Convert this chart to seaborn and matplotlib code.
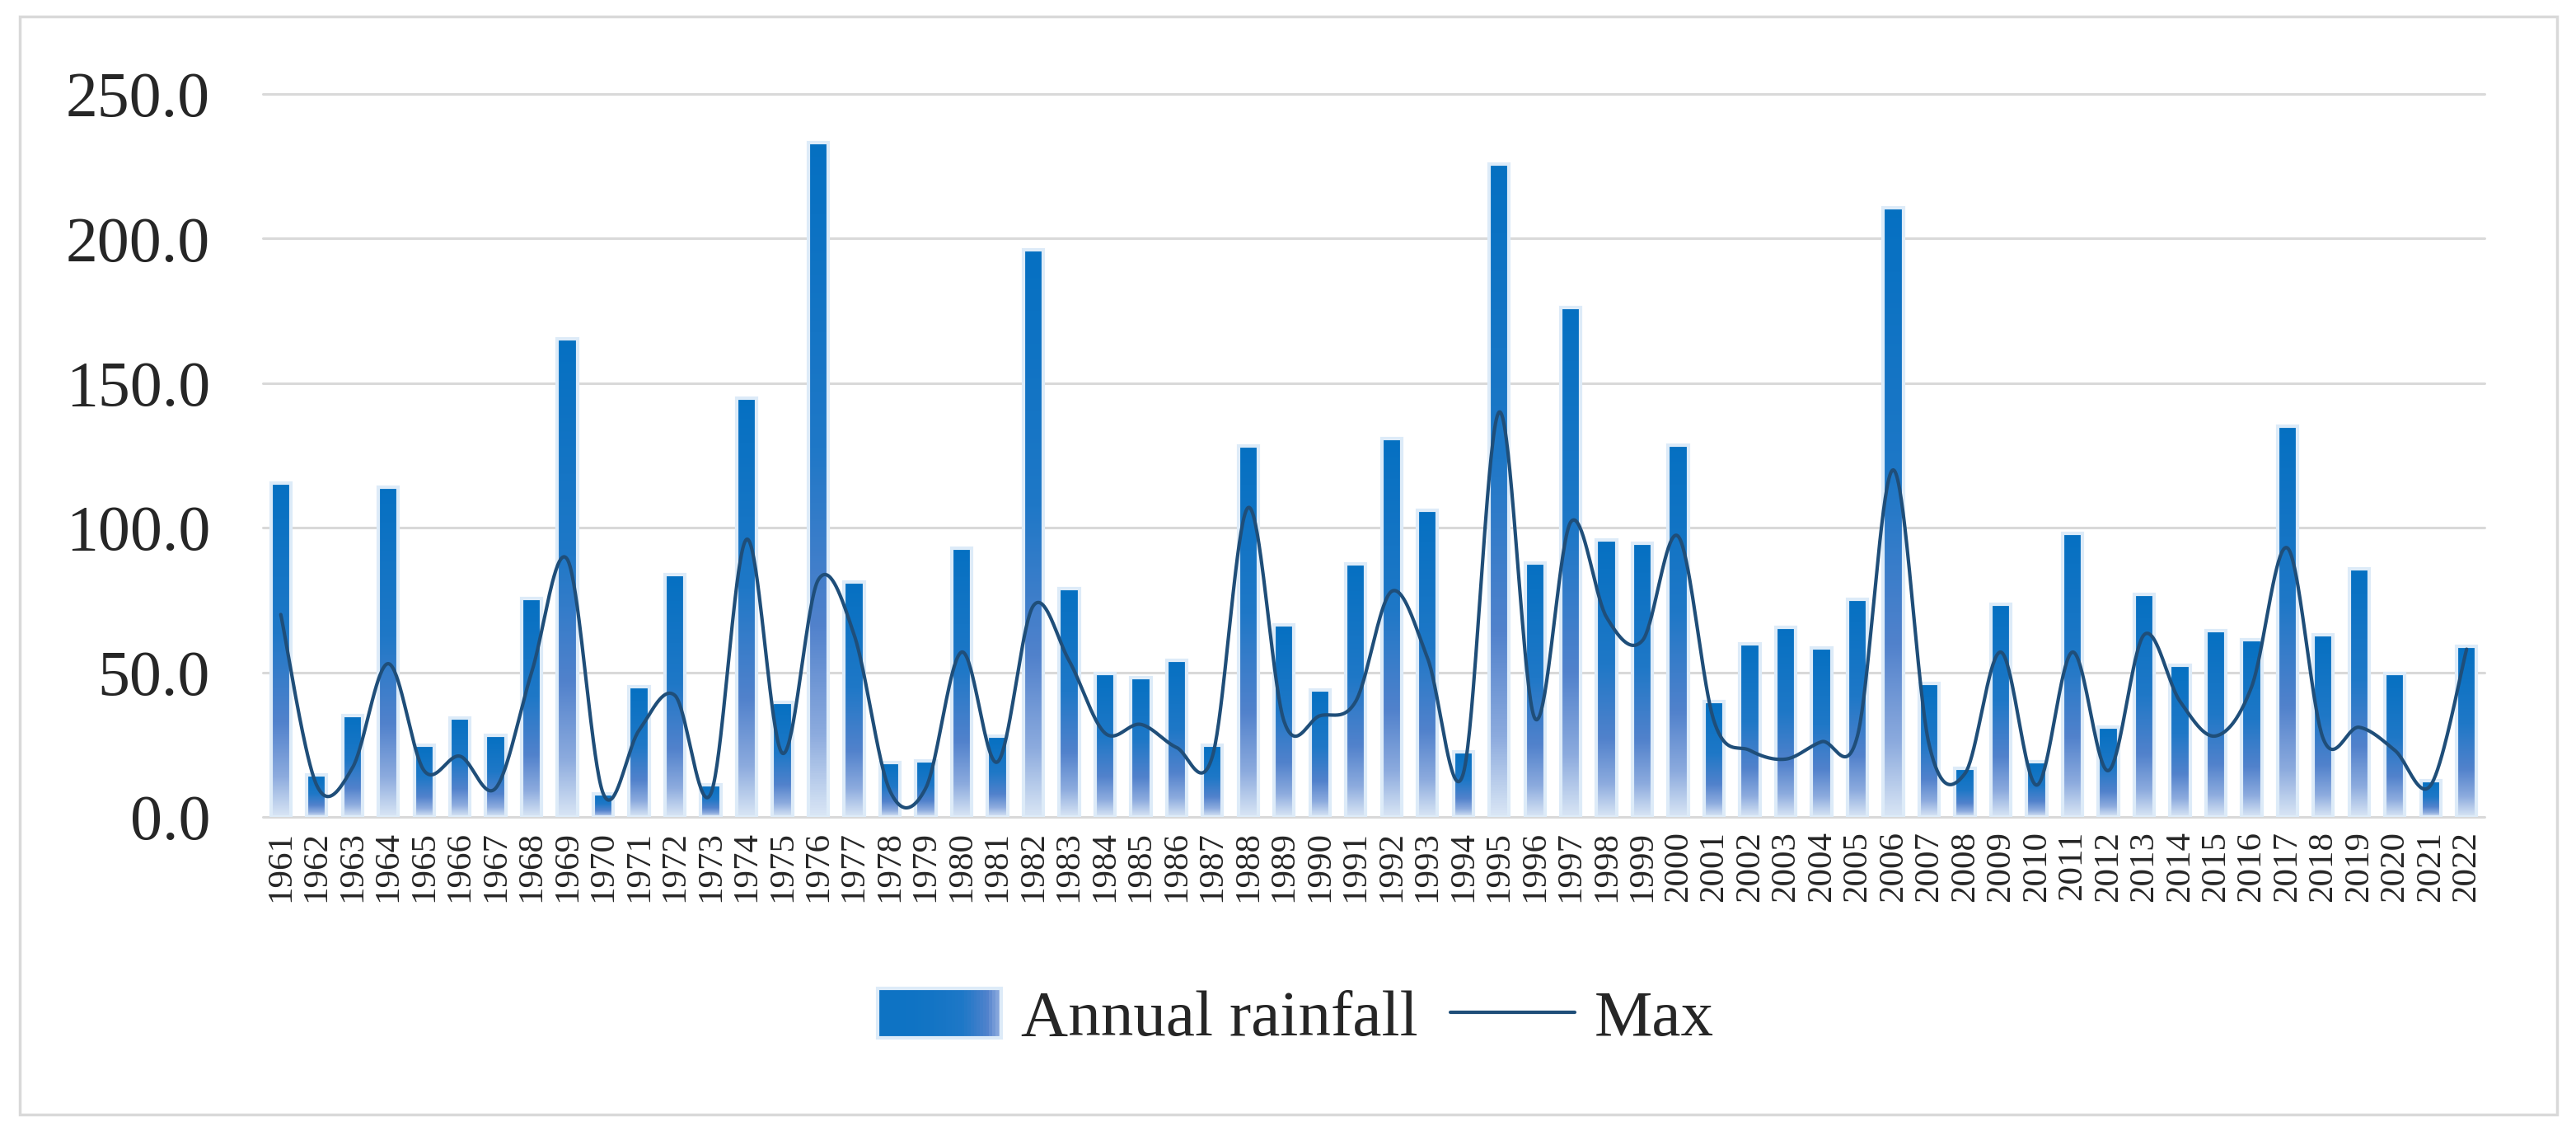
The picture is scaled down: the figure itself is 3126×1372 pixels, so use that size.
import numpy as np
import pandas as pd
import matplotlib
matplotlib.use("Agg")
import matplotlib.pyplot as plt
import seaborn as sns
from matplotlib.colors import LinearSegmentedColormap
from matplotlib.patches import Rectangle
from matplotlib.lines import Line2D
from matplotlib.legend_handler import HandlerBase

years = [str(y) for y in range(1961, 2023)]
annual_rainfall = [115.5, 14.5, 35.2, 114.0, 24.7, 34.3, 28.1, 75.6, 165.3, 8.0,
                   45.0, 83.7, 11.0, 144.8, 39.6, 233.2, 81.3, 18.9, 19.4, 92.9,
                   27.8, 196.1, 79.0, 49.7, 48.3, 54.2, 24.7, 128.3, 66.3, 43.9,
                   87.4, 130.8, 106.1, 22.6, 225.9, 87.9, 176.3, 95.8, 94.6, 128.6,
                   39.9, 59.8, 65.7, 58.4, 75.3, 210.8, 46.3, 16.8, 73.6, 19.2,
                   98.0, 31.0, 76.9, 52.5, 64.3, 61.3, 135.0, 63.0, 85.9, 49.7,
                   12.5, 58.9]
max_values = [70, 11, 17, 53, 16, 21, 10, 50, 89, 8,
              30, 42, 8, 96, 22, 82, 63, 9, 10, 57,
              19, 73, 54, 29, 32, 24, 21, 107, 33, 35,
              40, 78, 55, 15, 140, 34, 102, 69, 61, 97,
              33, 23, 20, 26, 28, 120, 25, 15, 57, 11,
              57, 16, 63, 40, 28, 45, 93, 27, 31, 23,
              11, 58]
y_ticks = [0, 50, 100, 150, 200, 250]

df = pd.DataFrame({"Year": years, "Annual rainfall": annual_rainfall, "Max": max_values})

sns.set_theme(style="white")
plt.rcParams["font.family"] = ["Liberation Serif", "DejaVu Serif"]

W, H = 3126, 1372
fig = plt.figure(figsize=(W / 100, H / 100), dpi=100)
fig.patch.set_facecolor("white")
ax = fig.add_axes([319 / W, 1 - 991 / H, (3015 - 319) / W, (991 - 114) / H])

# outer frame
fig.patches.append(Rectangle((24 / W, 1 - 1352 / H), (3103 - 24) / W, (1352 - 20) / H,
                             transform=fig.transFigure, fill=False,
                             edgecolor="#D9D9D9", linewidth=2.5, zorder=0))

grad_cmap = LinearSegmentedColormap.from_list(
    "bargrad",
    [(0.0, (0.02, 0.44, 0.76)),
     (0.45, (0.12, 0.47, 0.78)),
     (0.72, (0.32, 0.51, 0.80)),
     (0.88, (0.55, 0.67, 0.87)),
     (1.0, (0.85, 0.90, 0.96))])

sns.barplot(data=df, x="Year", y="Annual rainfall", order=years, color="#1F6FC0",
            width=0.56, ax=ax, zorder=3, saturation=1)

grad = np.linspace(0, 1, 256).reshape(-1, 1)
for p in list(ax.patches):
    x0, y0 = p.get_x(), p.get_y()
    w, h = p.get_width(), p.get_height()
    p.set_facecolor("none")
    p.set_edgecolor("#DDEBF8")
    p.set_linewidth(3.0)
    p.set_zorder(3.2)
    im = ax.imshow(grad, extent=[x0, x0 + w, y0, y0 + h], origin="upper",
                   aspect="auto", cmap=grad_cmap, vmin=0, vmax=1, zorder=3,
                   interpolation="bilinear")
    im.set_clip_path(p)


def smooth(xs, ys, n=40):
    pts = np.column_stack([xs, ys]).astype(float)
    ext = np.vstack([pts[0], pts, pts[-1]])
    out = []
    for i in range(1, len(ext) - 2):
        p0, p1, p2, p3 = ext[i - 1], ext[i], ext[i + 1], ext[i + 2]
        c1 = p1 + (p2 - p0) / 6.0
        c2 = p2 - (p3 - p1) / 6.0
        t = np.linspace(0, 1, n, endpoint=(i == len(ext) - 3))[:, None]
        seg = ((1 - t) ** 3) * p1 + 3 * ((1 - t) ** 2) * t * c1 + 3 * (1 - t) * t ** 2 * c2 + t ** 3 * p2
        out.append(seg)
    return np.vstack(out)


curve = smooth(np.arange(len(years)), df["Max"].values)
line_df = pd.DataFrame({"x": curve[:, 0], "y": curve[:, 1]})
sns.lineplot(data=line_df, x="x", y="y", sort=False, ax=ax, color="#1F4E79",
             linewidth=3.0, zorder=5)

ax.set_xlim(-0.5, len(years) - 0.5)
ax.set_ylim(0, 250)
ax.set_yticks(y_ticks)
ax.set_yticklabels([f"{v:.1f}" for v in y_ticks], fontsize=56)
ax.set_xticks(range(len(years)))
ax.set_xticklabels(years, rotation=90, fontsize=31, va="top")
ax.tick_params(axis="y", length=0, pad=46)
ax.tick_params(axis="x", length=0, pad=12)
ax.set_xlabel("")
ax.set_ylabel("")
for s in ax.spines.values():
    s.set_visible(False)
ax.yaxis.grid(True, color="#D9D9D9", linewidth=2.2)
ax.xaxis.grid(False)
ax.set_axisbelow(True)
for gl in ax.get_ygridlines():
    gl.set_clip_on(False)


class GradHandler(HandlerBase):
    def create_artists(self, legend, orig_handle, xdescent, ydescent, width, height,
                       fontsize, trans):
        arts = []
        n = 40
        for i in range(n):
            t = i / (n - 1)
            c = grad_cmap(0.15 + 0.75 * t ** 2.5)
            r = Rectangle((-xdescent + i * width / n, -ydescent), width / n * 1.1, height,
                          facecolor=c, edgecolor="none", transform=trans)
            arts.append(r)
        arts.append(Rectangle((-xdescent, -ydescent), width, height, fill=False,
                              edgecolor="#DDEBF8", linewidth=3.0, transform=trans))
        return arts


bar_proxy = Rectangle((0, 0), 1, 1)
line_proxy = Line2D([0], [0], color="#1F4E79", linewidth=3.0)
fig.legend([bar_proxy, line_proxy], ["Annual rainfall", "Max"],
           handler_map={Rectangle: GradHandler()},
           loc="center", bbox_to_anchor=(0.503, 1 - 1236 / H), ncol=2, frameon=False,
           fontsize=57, handlelength=1.9, handleheight=0.8, handletextpad=0.3,
           columnspacing=0.5)

fig.savefig("out.png", dpi=100, facecolor="white")
